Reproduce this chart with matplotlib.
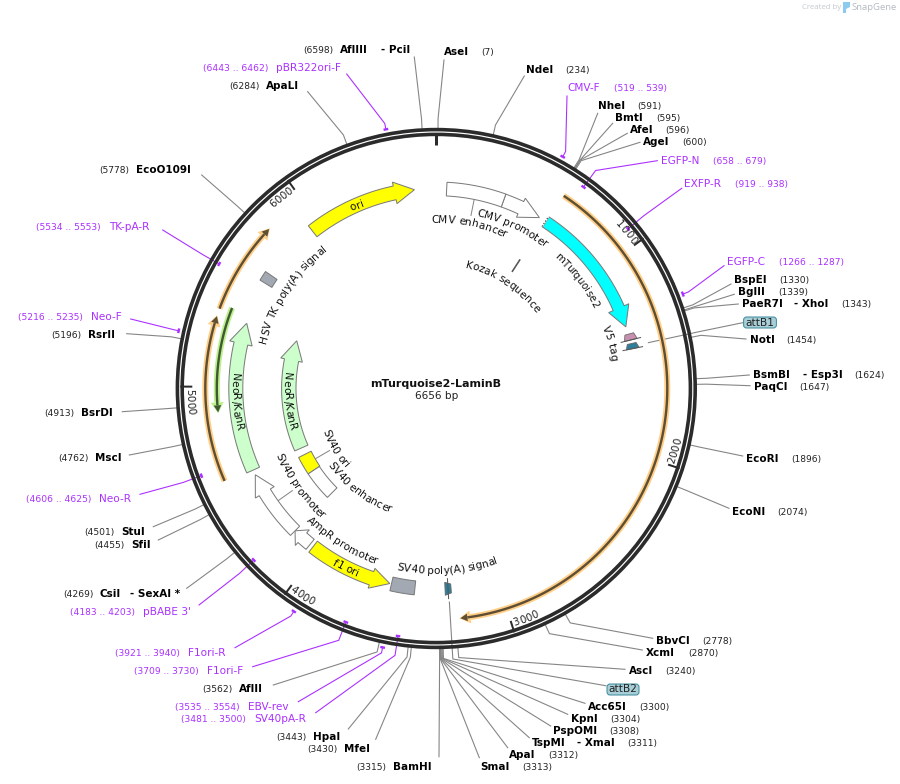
import math
import numpy as np
import matplotlib
matplotlib.use("Agg")
import matplotlib.pyplot as plt
from matplotlib.patches import Polygon, Circle, FancyBboxPatch
from matplotlib.text import Text
from matplotlib.textpath import text_to_path

# ---------- data ----------
TITLE = "mTurquoise2-LaminB"
TOTAL_BP = 6656
TICK_BP = [1000, 2000, 3000, 4000, 5000, 6000]

SITE_NAMES = ["AseI", "NdeI", "NheI", "BmtI", "AfeI", "AgeI", "BspEI", "BglII", "PaeR7I", "NotI",
              "BsmBI", "PaqCI", "EcoRI", "EcoNI", "BbvCI", "XcmI", "AscI", "Acc65I", "KpnI", "PspOMI",
              "TspMI", "ApaI", "SmaI", "BamHI", "MfeI", "HpaI", "AflII", "CsiI", "SfiI", "StuI",
              "MscI", "BsrDI", "RsrII", "EcoO109I", "ApaLI", "AflIII"]
SITE_BP = [7, 234, 591, 595, 596, 600, 1330, 1339, 1343, 1454,
           1624, 1647, 1896, 2074, 2778, 2870, 3240, 3300, 3304, 3308,
           3311, 3312, 3313, 3315, 3430, 3443, 3562, 4269, 4455, 4501,
           4762, 4913, 5196, 5778, 6284, 6598]

PRIMER_NAMES = ["CMV-F", "EGFP-N", "EXFP-R", "EGFP-C", "F1ori-F", "F1ori-R", "EBV-rev", "SV40pA-R",
                "pBABE 3'", "Neo-R", "Neo-F", "TK-pA-R", "pBR322ori-F"]
PRIMER_START = [519, 658, 919, 1266, 3709, 3921, 3535, 3481, 4183, 4606, 5216, 5534, 6443]
PRIMER_END = [539, 679, 938, 1287, 3730, 3940, 3554, 3500, 4203, 4625, 5235, 5553, 6462]

ARROW_NAMES = ["mTurquoise2", "ori", "f1 ori", "NeoR/KanR", "NeoR/KanR", "AmpR promoter", "SV40 promoter", "CMV promoter"]
ARROW_TAIL = [616, 5950, 4029, 4548, 4552, 4049, 4156, 364]
ARROW_TIP = [1331, 6540, 3576, 5343, 5341, 4156, 4521, 575]

BLOCK_NAMES = ["CMV enhancer", "SV40 ori", "SV40 enhancer", "SV40 poly(A) signal", "HSV TK poly(A) signal"]
BLOCK_START = [55, 4369, 4160, 3441, 5576]
BLOCK_END = [364, 4500, 4369, 3567, 5628]

TINY_NAMES = ["V5 tag", "attB1", "attB2"]
TINY_TAIL = [1372, 1424, 3250]
TINY_TIP = [1405, 1452, 3282]

ORF_START = [619, 4556, 5366]
ORF_END = [3222, 5334, 5804]
NEO_ORF_START = [5390]
NEO_ORF_END = [4872]
KOZAK_BP = 610

# ---------- layout ----------
CX, CY = 436.3, 388.5
# name x, number x, text y, leader end x, leader end y
SITE_LAYOUT = [
    (444, 481.3, 52.3, 444, 60), (526.3, 565.3, 70.3, 524.3, 76), (598.3, 637, 106, 597.7, 113.3),
    (615.3, 656, 118, 612.7, 123.3), (630.3, 665, 130.3, 627.3, 133.3), (643, 682.3, 142.3, 640, 142.3),
    (734.3, 779.3, 280.3, 731, 284), (738.3, 778.3, 292.3, 734.3, 294.3), (742.3, 841.3, 304.3, 738.3, 304),
    (750.3, 786.3, 340.3, 746, 339), (753.3, 854.3, 375.3, 749.3, 375), (754.3, 799.3, 387.3, 750, 385.7),
    (746.3, 791.3, 459, 742.7, 456), (732.3, 777.3, 512.3, 729, 508.3), (656.3, 702.3, 641, 652.7, 638.3),
    (646, 688.3, 653.3, 642.3, 650), (629.3, 665.3, 671.3, 625, 669.3), (588.3, 639.3, 707.3, 585, 703.3),
    (571.3, 610.3, 719.3, 567.7, 714.3), (553.3, 609.3, 731.3, 550.7, 726), (532, 627.3, 743.3, 529.3, 737.7),
    (509, 548.3, 755.3, 507.7, 747.7), (480, 522.3, 767.3, 479.3, 757.7), (393.3, 356, 767.3, 439, 756.7),
    (344.3, 307.3, 749.3, 375.7, 739.3), (313.3, 276, 737.3, 348.3, 729), (239.3, 202, 689.3, 273.3, 685),
    (100, 63.3, 594, 186.7, 588.3), (131, 94.3, 545.3, 158.3, 540), (121, 84.3, 532.3, 153.3, 526.7),
    (95.3, 58.3, 458.3, 129.3, 455), (81.3, 44.3, 413.3, 122.3, 411.7), (88.3, 51, 335, 126.7, 333.7),
    (136.3, 99.3, 170.3, 201.7, 175), (266, 229.3, 86.3, 307.7, 91.7), (340, 303, 50.3, 414.3, 57),
]
SECOND_NAME = {"PaeR7I": ("- XhoI", 794.3), "BsmBI": ("- Esp3I", 802.7), "TspMI": ("- XmaI", 576.7),
               "CsiI": ("- SexAI *", 130), "AflIII": ("- PciI", 380.7)}
# name x, number x, text y, leader end x, leader end y, marker radius
PRIMER_LAYOUT = [
    (567, 614.3, 88.3, 567, 96, 264), (661, 713.3, 160.5, 657.3, 160.7, 249.5), (684.3, 735.3, 184.3, 681.7, 188.3, 249.5),
    (727, 779.3, 262.3, 724, 265.7, 264), (207.3, 134, 671.3, 252.7, 666.7, 250.5), (188.3, 115, 653.3, 235, 647.7, 264.5),
    (248.3, 175.3, 707.3, 298.3, 701.7, 264.4), (254, 181, 719.3, 315.7, 712.7, 250.5), (143.3, 70, 612.3, 199, 605, 250.5),
    (99.3, 26, 499.3, 140, 494.3, 250.5), (91.3, 18, 317.3, 130.7, 319, 264), (109, 36, 227.3, 162.7, 230, 250.3),
    (276.3, 203.3, 68.3, 346.7, 74, 264),
]

PURPLE = "#AB30FF"
GREY_LINE = "#858585"
RING = "#2B2B2B"
BASE_FONT = "DejaVu Sans"


def ang_of(bp):
    return bp / TOTAL_BP * 360.0


def pol(ang, r):
    a = np.radians(ang)
    return CX + r * np.sin(a), CY - r * np.cos(a)


def pt(px):
    return px * 0.72


fig = plt.figure(figsize=(9, 7.84), dpi=100)
ax = fig.add_axes([0, 0, 1, 1])
ax.set_xlim(0, 900)
ax.set_ylim(784, 0)
ax.axis("off")


def text_w(s, fp):
    w, _, _ = text_to_path.get_text_width_height_descent(s + "|", fp, ismath=False)
    w0, _, _ = text_to_path.get_text_width_height_descent("|", fp, ismath=False)
    return (w - w0) * 100 / 72


class ArcText(Text):
    """One string laid out along a circle around the plasmid centre."""

    def __init__(self, s, ang, r, size, color="#111111", weight="normal"):
        self.arc_ang = ang
        self.arc_r = r
        self.flipped = 90 < ang % 360 < 270
        rot = 180 - ang if self.flipped else -ang
        x, y = pol(ang, r)
        super().__init__(x, y, s, rotation=rot, rotation_mode="anchor", ha="center", va="center",
                         fontsize=size, color=color, fontweight=weight, family=BASE_FONT)

    def draw(self, renderer):
        if not self.get_visible():
            return
        s = self.get_text()
        fp = self.get_fontproperties()
        px = self.get_fontsize() * 100 / 72
        sign = -1 if self.flipped else 1
        rb = self.arc_r - sign * 0.36 * px
        total = text_w(s, fp)
        for i, ch in enumerate(s):
            if ch == " ":
                continue
            p0 = text_w(s[:i], fp) if i else 0.0
            p1 = text_w(s[:i + 1], fp)
            d = (p0 + p1) / 2 - total / 2
            a = self.arc_ang + sign * math.degrees(d / rb)
            x, y = pol(a, rb)
            rot = 180 - a if self.flipped else -a
            t = Text(x, y, ch, rotation=rot, rotation_mode="anchor", ha="center", va="baseline",
                     fontproperties=fp, color=self.get_color(), transform=self.get_transform())
            t.set_figure(self.get_figure())
            t.draw(renderer)


def arc_text(*args, **kw):
    t = ArcText(*args, **kw)
    ax.add_artist(t)
    return t


def arc_pts(a0, a1, r, n=60):
    a = np.linspace(a0, a1, n)
    return np.column_stack(pol(a, r))


def arrow(a0, a1, rc, hw, hhw, head_px, fc, ec="#7A7A7A", lw=1.0, z=3):
    sgn = 1 if a1 > a0 else -1
    ab = a1 - sgn * math.degrees(head_px / rc)
    pts = [arc_pts(a0, ab, rc + hw),
           np.array([pol(ab, rc + hhw), pol(a1, rc), pol(ab, rc - hhw)]),
           arc_pts(ab, a0, rc - hw)]
    ax.add_patch(Polygon(np.vstack(pts), closed=True, fc=fc, ec=ec, lw=pt(lw), zorder=z, joinstyle="miter"))


def block(a0, a1, r0, r1, fc, ec="#7A7A7A", lw=1.0, z=3):
    pts = np.vstack([arc_pts(a0, a1, r1), arc_pts(a1, a0, r0)])
    ax.add_patch(Polygon(pts, closed=True, fc=fc, ec=ec, lw=pt(lw), zorder=z))


def radial(ang, r0, r1, color, lw, z=2):
    x, y = pol(ang, np.array([r0, r1]))
    ax.plot(x, y, color=color, lw=pt(lw), zorder=z, solid_capstyle="butt")


def orf(a0, a1, r, halo, core):
    sgn = 1 if a1 > a0 else -1
    ab_h = a1 - sgn * math.degrees(11 / r)
    ab_c = a1 - sgn * math.degrees(8 / r)
    ax.plot(*arc_pts(a0, ab_h, r, 120).T, color=halo, lw=pt(6), zorder=2, solid_capstyle="butt")
    ax.add_patch(Polygon([pol(ab_h, r + 6.5), pol(a1, r), pol(ab_h, r - 6.5)], closed=True, fc=halo, ec="none", zorder=2))
    ax.plot(*arc_pts(a0, ab_c, r, 120).T, color=core, lw=pt(2.4), zorder=2.5, solid_capstyle="butt")
    ax.add_patch(Polygon([pol(ab_c, r + 3.8), pol(a1 - sgn * math.degrees(1 / r), r), pol(ab_c, r - 3.8)],
                         closed=True, fc=core, ec="none", zorder=2.5))


# ---------- leaders and labels ----------
NAME_PT, NUM_PT, PRIMER_PT = 7.5, 6.6, 7.6
for name, bp, (nx, numx, ty, ex, ey) in zip(SITE_NAMES, SITE_BP, SITE_LAYOUT):
    a = ang_of(bp)
    p0, p1 = pol(a, 258), pol(a, 270)
    ax.plot([p0[0], p1[0], ex], [p0[1], p1[1], ey], color=GREY_LINE, lw=pt(1.1), zorder=1)
    ax.text(nx, ty, name, fontsize=NAME_PT, fontweight="bold", va="center", ha="left", color="black", family=BASE_FONT)
    ax.text(numx, ty + 0.5, f"({bp})", fontsize=NUM_PT, va="center", ha="left", color="#222222", family=BASE_FONT)
    if name in SECOND_NAME:
        sec, sx = SECOND_NAME[name]
        ax.text(sx, ty, sec, fontsize=NAME_PT, fontweight="bold", va="center", ha="left", color="black", family=BASE_FONT)

for name, s, e, (nx, numx, ty, ex, ey, mr) in zip(PRIMER_NAMES, PRIMER_START, PRIMER_END, PRIMER_LAYOUT):
    a0, a1 = ang_of(s), ang_of(e)
    am = (a0 + a1) / 2
    p0, p1 = pol(am, mr), pol(am, 270)
    ax.plot([p0[0], p1[0], ex], [p0[1], p1[1], ey], color=PURPLE, lw=pt(1.1), zorder=1)
    ax.plot(*arc_pts(a0, a1, mr, 8).T, color=PURPLE, lw=pt(2.4), zorder=2.6, solid_capstyle="butt")
    ax.text(nx, ty, name, fontsize=PRIMER_PT, va="center", ha="left", color=PURPLE, family=BASE_FONT)
    ax.text(numx, ty + 0.5, f"({s} .. {e})", fontsize=NUM_PT, va="center", ha="left", color=PURPLE, family=BASE_FONT)

# ---------- backbone ----------
for r in (258.9, 254.1):
    ax.add_patch(Circle((CX, CY), r, fc="none", ec=RING, lw=pt(3.6), zorder=4))
radial(0, 244, 256, RING, 3.0, z=4)
for bp in TICK_BP:
    a = ang_of(bp)
    radial(a, 244, 256, RING, 2.0, z=4)
    arc_text(str(bp), a - 3.5, 246.5, 7.4, color="#222222")

# ---------- thin ORF arrows ----------
for s, e in zip(ORF_START, ORF_END):
    orf(ang_of(s), ang_of(e), 231, "#FFCF87", "#5E4E34")
for s, e in zip(NEO_ORF_START, NEO_ORF_END):
    orf(ang_of(s), ang_of(e), 219.5, "#BDF08C", "#3F5A33")

# ---------- main feature arrows ----------
ARROW_STYLE = {
    "mTurquoise2": dict(rc=199.3, hw=6, hhw=11, head=20, fc="#00FFFF"),
    "ori": dict(rc=200, hw=7, hhw=11, head=20, fc="#FFFF00"),
    "f1 ori": dict(rc=200.5, hw=7, hhw=10.5, head=19, fc="#FFFF00"),
    "AmpR promoter": dict(rc=200.5, hw=6.5, hhw=10.5, head=10, fc="white"),
    "SV40 promoter": dict(rc=200.5, hw=6.5, hhw=11, head=20, fc="white"),
    "CMV promoter": dict(rc=199.6, hw=6.8, hhw=10.5, head=21, fc="white"),
}
neo_styles = [dict(rc=200.5, hw=7, hhw=11.5, head=21, fc="#CCFFCC"), dict(rc=147.5, hw=7.2, hhw=11, head=20, fc="#CCFFCC")]
neo_i = 0
for name, s, e in zip(ARROW_NAMES, ARROW_TAIL, ARROW_TIP):
    if name == "NeoR/KanR":
        st = neo_styles[neo_i]
        neo_i += 1
    else:
        st = ARROW_STYLE[name]
    arrow(ang_of(s), ang_of(e), st["rc"], st["hw"], st["hhw"], st["head"], st["fc"])

# dotted tail of mTurquoise2
a_t = ang_of(ARROW_TAIL[0])
xd, yd = pol(a_t - 0.2, np.array([193.3, 205.3]))
ax.plot(xd, yd, color="white", lw=pt(1.6), zorder=3.4, solid_capstyle="butt")
ax.plot(xd, yd, color="#333333", lw=pt(1.0), ls=(0, (1.4, 1.6)), zorder=3.5)

# ---------- blocks ----------
BLOCK_STYLE = {
    "CMV enhancer": dict(r0=192.8, r1=206.5, fc="white"),
    "SV40 ori": dict(r0=140, r1=154, fc="#FFFF00"),
    "SV40 enhancer": dict(r0=140.5, r1=154, fc="white"),
    "SV40 poly(A) signal": dict(r0=193.5, r1=207.5, fc="#A3A9B3"),
    "HSV TK poly(A) signal": dict(r0=193, r1=207, fc="#A3A9B3"),
}
for name, s, e in zip(BLOCK_NAMES, BLOCK_START, BLOCK_END):
    st = BLOCK_STYLE[name]
    block(ang_of(s), ang_of(e), st["r0"], st["r1"], st["fc"])

# ---------- tiny arrows ----------
TINY_COLOR = {"V5 tag": "#C78FB0", "attB1": "#2F7F9A", "attB2": "#2F7F9A"}
TINY_WHISKER = {"V5 tag": 1.0, "attB1": 1.0, "attB2": 0.5}
for name, s, e in zip(TINY_NAMES, TINY_TAIL, TINY_TIP):
    a0, a1 = ang_of(s), ang_of(e)
    poly = [pol(a0, 196), pol(a0, 205), pol(a1, 207), pol(a1, 194)]
    ax.add_patch(Polygon(poly, closed=True, fc=TINY_COLOR[name], ec="#666666", lw=pt(0.8), zorder=3))
    radial(a0 + (a1 - a0) * TINY_WHISKER[name], 190, 211, "#555555", 1.0, z=3.2)

# Kozak tick
radial(ang_of(KOZAK_BP), 139, 154, "#555555", 1.6, z=3)

# thin connectors between a block and its label
CONNECTOR_A = [ang_of((BLOCK_START[0] + BLOCK_END[0]) / 2), ang_of((BLOCK_START[1] + BLOCK_END[1]) / 2),
               ang_of((ARROW_TAIL[6] + ARROW_TIP[6]) / 2)]
CONNECTOR_R = [(176, 192.8), (123, 140), (176, 194)]
for a, (r0, r1) in zip(CONNECTOR_A, CONNECTOR_R):
    radial(a, r0, r1, GREY_LINE, 1.0, z=2)

# attB leaders and pills
p0, p1 = pol(77.8, 217), pol(77.8, 270)
ax.plot([p0[0], p1[0], 742.7], [p0[1], p1[1], 322.7], color=GREY_LINE, lw=pt(1.1), zorder=1)
p0, p1 = pol(176.5, 214), pol(176.5, 271)
ax.plot([p0[0], p1[0], 605.7], [p0[1], p1[1], 685.7], color=GREY_LINE, lw=pt(1.1), zorder=1)
for label, x0, x1, y0, y1 in [("attB1", 743.6, 776.4, 317, 328), ("attB2", 607, 639, 684, 695)]:
    ax.add_patch(FancyBboxPatch((x0 + 2, y0 + 2), x1 - x0 - 4, y1 - y0 - 4, boxstyle="round,pad=2,rounding_size=3",
                                fc="#A8CFD8", ec="#3C8A9C", lw=pt(1.0), zorder=5))
    ax.text((x0 + x1) / 2, (y0 + y1) / 2, label, fontsize=7.6, ha="center", va="center", color="#222222", zorder=6, family=BASE_FONT)

# ---------- feature labels ----------
F = 7.6
arc_text("mTurquoise2", 52.4, 180, 7.3)
arc_text("ori", 336.5, 200, F)
arc_text("f1 ori", 206.7, 201, F)
arc_text("NeoR/KanR", 266.2, 201, F)
arc_text("NeoR/KanR", 265, 149, F)
arc_text("CMV promoter", 25.3, 181, F)
arc_text("CMV enhancer", 11.4, 169.5, F)
arc_text("Kozak sequence", 33.1, 128, F)
arc_text("V5 tag", 75.4, 180.5, F)
arc_text("HSV TK poly(A) signal", 303.2, 180, F)
arc_text("SV40 ori", 239.3, 118, F)
arc_text("SV40 enhancer", 217.7, 129, F)
arc_text("SV40 promoter", 234.5, 170, F)
arc_text("AmpR promoter", 211.8, 182, F)
arc_text("SV40 poly(A) signal", 176.4, 181.5, F)

ax.text(436, 384, TITLE, fontsize=8, fontweight="bold", ha="center", va="center", color="#111111", family=BASE_FONT)
ax.text(436.5, 396, f"{TOTAL_BP} bp", fontsize=7.6, ha="center", va="center", color="#222222", family=BASE_FONT)

# ---------- watermark ----------
ax.text(802.5, 7.8, "Created by", fontsize=5.6, ha="left", va="center", color="#C4C9D0", family="Open Sans")
ax.add_patch(Polygon([(843, 2), (850, 2), (850, 7), (846, 9), (846, 13), (843, 13)], closed=True, fc="#8CCBEF", ec="none"))
ax.text(851.5, 7.8, "SnapGene", fontsize=6.8, ha="left", va="center", color="#B4BAC2", family="Open Sans")

fig.savefig("out.png", dpi=100)
